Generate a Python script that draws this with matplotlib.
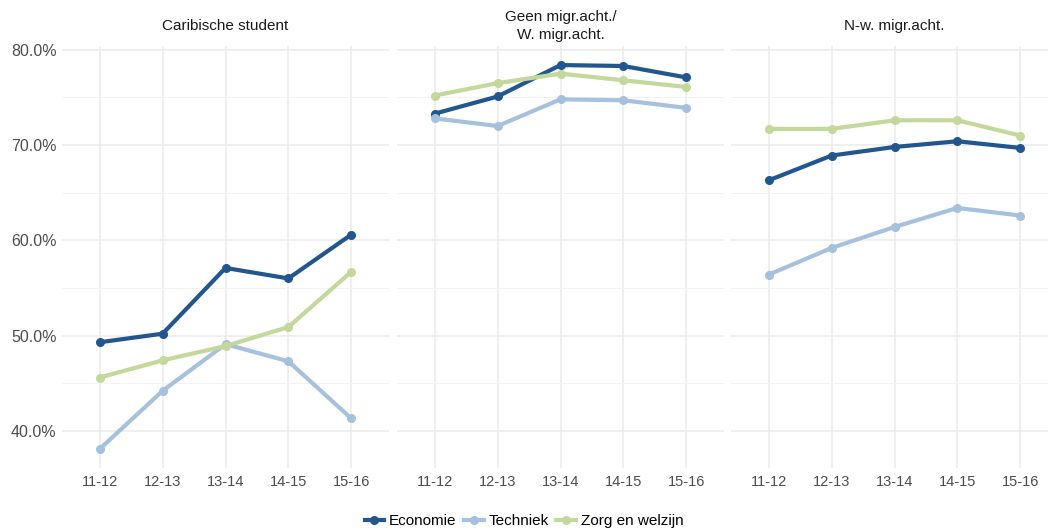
import matplotlib.pyplot as plt
from matplotlib.lines import Line2D
from matplotlib.ticker import FuncFormatter

plt.rcParams['font.family'] = ['Liberation Sans', 'DejaVu Sans']

jaren = ['11-12', '12-13', '13-14', '14-15', '15-16']
groepen = ['Caribische student', 'Geen migr.acht./\nW. migr.acht.', 'N-w. migr.acht.']

# percentages per groep, per sector
economie = [
    [49.3, 50.2, 57.1, 56.0, 60.6],
    [73.3, 75.1, 78.4, 78.3, 77.1],
    [66.3, 68.9, 69.8, 70.4, 69.7],
]
techniek = [
    [38.1, 44.2, 49.1, 47.3, 41.3],
    [72.8, 72.0, 74.8, 74.7, 73.9],
    [56.4, 59.2, 61.4, 63.4, 62.6],
]
zorg = [
    [45.6, 47.4, 48.9, 50.9, 56.7],
    [75.2, 76.5, 77.5, 76.8, 76.1],
    [71.7, 71.7, 72.6, 72.6, 71.0],
]

sectoren = ['Economie', 'Techniek', 'Zorg en welzijn']
kleuren = ['#22568f', '#a6c1de', '#c3d89a']
reeksen = [economie, techniek, zorg]

W, H = 1048, 530
fig = plt.figure(figsize=(W / 100, H / 100), dpi=100)

lefts = [62, 397, 731]
pw = 327
top, bottom = 46, 468

x = list(range(len(jaren)))
for i, groep in enumerate(groepen):
    ax = fig.add_axes([lefts[i] / W, 1 - bottom / H, pw / W, (bottom - top) / H])
    for reeks, kleur in zip(reeksen, kleuren):
        ax.plot(x, reeks[i], color=kleur, lw=3, marker='o', ms=5.5,
                solid_capstyle='round', zorder=3)
    ax.set_xlim(-0.6, len(jaren) - 0.4)
    ax.set_ylim(36.1, 80.4)
    ax.set_xticks(x)
    ax.set_xticklabels(jaren)
    ax.set_yticks([40, 50, 60, 70, 80])
    ax.set_yticks([45, 55, 65, 75], minor=True)
    ax.yaxis.set_major_formatter(FuncFormatter(lambda v, p: f'{v:.1f}%'))
    if i > 0:
        ax.tick_params(axis='y', labelleft=False)
    ax.grid(which='major', color='#ebebeb', lw=1.1)
    ax.grid(which='minor', axis='y', color='#f3f3f3', lw=0.7)
    ax.tick_params(which='both', length=0, colors='#4d4d4d')
    ax.tick_params(axis='x', labelsize=10.5, pad=5)
    ax.tick_params(axis='y', labelsize=11.5, pad=4)
    for s in ax.spines.values():
        s.set_visible(False)
    fig.text((lefts[i] + pw / 2) / W, 1 - 26 / H, groep, ha='center', va='center',
             fontsize=11, color='#1a1a1a', linespacing=1.3)

handles = [Line2D([0], [0], color=k, lw=3, marker='o', ms=5.5) for k in kleuren]
fig.legend(handles, sectoren, loc='center', bbox_to_anchor=(0.5, 1 - 521 / H),
           ncol=3, frameon=False, fontsize=11, handlelength=1.3,
           handletextpad=0.3, columnspacing=0.5)

fig.savefig('out.png', dpi=100)
